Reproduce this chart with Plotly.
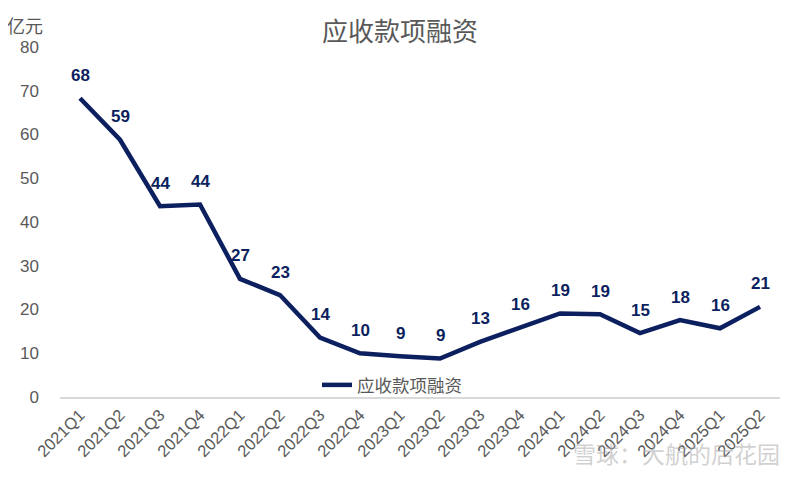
import plotly.graph_objects as go

categories = ["2021Q1", "2021Q2", "2021Q3", "2021Q4", "2022Q1", "2022Q2",
              "2022Q3", "2022Q4", "2023Q1", "2023Q2", "2023Q3", "2023Q4",
              "2024Q1", "2024Q2", "2024Q3", "2024Q4", "2025Q1", "2025Q2"]
values = [68.3, 58.8, 43.6, 44.0, 27.0, 23.3, 13.6, 10.0, 9.3, 8.8,
          12.6, 15.9, 19.1, 18.9, 14.6, 17.6, 15.7, 20.6]
labels = [f"{round(v):d}" for v in values]
series_name = "应收款项融资"
title_text = "应收款项融资"
unit_text = "亿元"
watermark_text = "雪球：大航的后花园"

NAVY = "#0c1f5e"
GRAY = "#595959"
CJK = "Noto Sans CJK SC, Liberation Sans, Arial, sans-serif"
LAT = "Liberation Sans, Arial, sans-serif"

# page body has an 8px margin; compensate so the plot lands where the reference has it
OFF = 8
L, R, T, B = 60 - OFF, 20 + OFF, 47 - OFF, 83 + OFF
PW, PH = 800 - L - R, 480 - T - B

fig = go.Figure()
fig.add_trace(go.Scatter(
    x=categories, y=values, mode="lines", name=series_name,
    line=dict(color=NAVY, width=4.5),
))

annotations = [
    dict(x=c, y=v, text=t, xref="x", yref="y", showarrow=False, yshift=23,
         xanchor="center", yanchor="middle",
         font=dict(family=LAT, size=17, color=NAVY, weight="bold"))
    for c, v, t in zip(categories, values, labels)
]
annotations.append(dict(text=unit_text, xref="paper", yref="paper",
                        x=(25 - OFF - L) / PW, y=1 + (T - (25 - OFF)) / PH,
                        xanchor="center", yanchor="middle", showarrow=False,
                        font=dict(family=CJK, size=18, color=GRAY)))
annotations.append(dict(text=watermark_text, xref="paper", yref="paper",
                        x=(676 - OFF - L) / PW, y=-(453 - OFF - T - PH) / PH,
                        xanchor="center", yanchor="middle", showarrow=False,
                        font=dict(family=CJK, size=23, color="rgba(170,170,170,0.55)")))

fig.update_layout(
    width=800, height=480,
    margin=dict(l=L, r=R, t=T, b=B, autoexpand=False),
    paper_bgcolor="white", plot_bgcolor="white",
    title=dict(text=title_text, x=(400 - OFF) / 800, xref="container", xanchor="center",
               y=1 - (32 - OFF) / 480, yref="container", yanchor="middle",
               font=dict(family=CJK, size=26, color=GRAY)),
    showlegend=True,
    legend=dict(x=(317 - OFF - L) / PW, y=(397 - 385) / PH, xanchor="left", yanchor="middle",
                bgcolor="rgba(0,0,0,0)", font=dict(family=CJK, size=17.5, color=GRAY)),
    xaxis=dict(type="category", showgrid=False, showline=True, linecolor="#d9d9d9",
               linewidth=2, ticks="", tickangle=-45,
               tickfont=dict(family=LAT, size=16.5, color=GRAY),
               range=[-0.5, len(categories) - 0.5]),
    yaxis=dict(range=[0, 80], dtick=10, showgrid=False, zeroline=False, showline=False,
               ticks="", ticklabelstandoff=20,
               tickfont=dict(family=LAT, size=17, color=GRAY)),
    annotations=annotations,
)

fig.write_html("out.html")
